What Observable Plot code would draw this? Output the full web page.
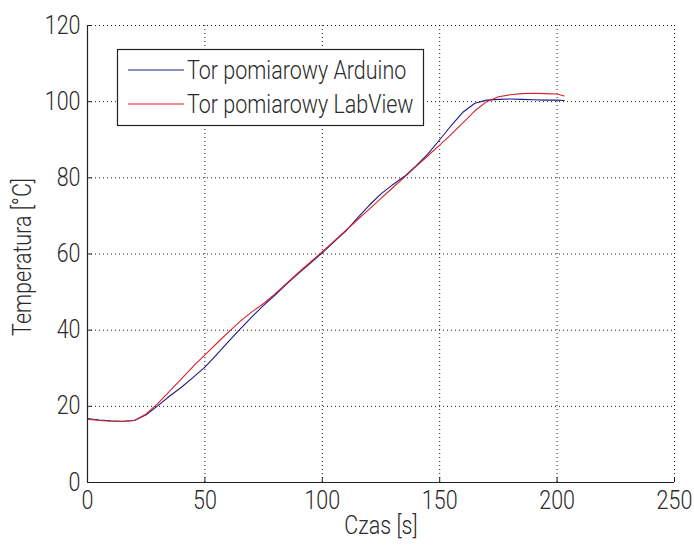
<!DOCTYPE html>
<html>
<head>
<meta charset="utf-8">
<script src="https://cdn.jsdelivr.net/npm/d3@7"></script>
<script src="https://cdn.jsdelivr.net/npm/@observablehq/plot@0.6"></script>
<style>
  html, body { margin: 0; padding: 0; background: #fff; }
  #chart { width: 694px; height: 547px; }
</style>
</head>
<body>
<div id="chart"></div>
<script>
const seriesNames = ["Tor pomiarowy Arduino", "Tor pomiarowy LabView"];
const seriesColors = ["#1c1c86", "#d8202c"];

const times = [0, 5, 10, 15, 20, 25, 30, 35, 40, 45, 50, 55, 60, 65, 70, 75, 80, 85, 90, 95,
  100, 105, 110, 115, 120, 125, 130, 135, 140, 145, 150, 155, 160, 165, 170, 175, 180, 185, 190, 195, 200, 203];

const arduino = [16.8, 16.4, 16.2, 16.1, 16.3, 17.8, 20.2, 22.7, 25.0, 27.6, 30.3, 33.6, 37.0, 40.3, 43.5, 46.5, 49.3, 52.2, 55.0, 57.6,
  60.3, 63.2, 66.0, 69.5, 72.8, 75.8, 78.2, 80.4, 83.2, 86.3, 90.0, 93.8, 97.3, 99.6, 100.4, 100.6, 100.7, 100.6, 100.5, 100.4, 100.4, 100.3];

const labview = [16.6, 16.3, 16.1, 16.0, 16.3, 18.0, 20.8, 24.0, 27.2, 30.5, 33.5, 36.5, 39.5, 42.3, 44.8, 47.0, 49.6, 52.4, 55.2, 57.9,
  60.6, 63.4, 66.2, 69.0, 71.8, 74.6, 77.4, 80.2, 83.0, 85.8, 88.6, 91.5, 94.5, 97.6, 100.0, 101.3, 101.8, 102.1, 102.2, 102.1, 102.0, 101.5];

const xTicks = [0, 50, 100, 150, 200, 250];
const yTicks = [0, 20, 40, 60, 80, 100, 120];
const xLabel = "Czas [s]";
const yLabel = "Temperatura [°C]";

const data = [];
times.forEach((t, i) => {
  data.push({t, v: arduino[i], s: seriesNames[0]});
});
times.forEach((t, i) => {
  data.push({t, v: labview[i], s: seriesNames[1]});
});

const font = "Roboto, 'Liberation Sans', Arial, sans-serif";
const textColor = "#2a2a2a";
const gridStyle = {stroke: "#000", strokeOpacity: 0.9, strokeDasharray: "1,3", strokeWidth: 1};

const plot = Plot.plot({
  width: 694,
  height: 547,
  marginLeft: 87,
  marginRight: 20,
  marginTop: 25,
  marginBottom: 65,
  style: {fontFamily: font, fontSize: "25px", fontWeight: 300, color: textColor, background: "#fff"},
  x: {domain: [0, 250]},
  y: {domain: [0, 120]},
  color: {domain: seriesNames, range: seriesColors},
  marks: [
    Plot.gridX(xTicks, gridStyle),
    Plot.gridY(yTicks, gridStyle),
    Plot.line(data, {x: "t", y: "v", stroke: "s", z: "s", strokeWidth: 1.1}),
    Plot.ruleY([0], {stroke: "#222", strokeWidth: 1.2}),
    Plot.ruleX([0], {stroke: "#222", strokeWidth: 1.2}),
    Plot.axisX(xTicks, {tickSize: -5, text: null, label: null, stroke: "#222"}),
    Plot.axisY(yTicks, {tickSize: -5, text: null, label: null, stroke: "#222"}),
    Plot.axisX(xTicks, {tickSize: 0, tickPadding: 9, label: null, fontSize: 25}),
    Plot.axisY(yTicks, {tickSize: 0, tickPadding: 7, label: null, fontSize: 25}),
    Plot.text([xLabel], {frameAnchor: "bottom", dy: 43, fontSize: 25, lineAnchor: "middle", textAnchor: "middle", fill: textColor}),
    Plot.text([yLabel], {frameAnchor: "left", dx: -65, dy: 3, rotate: -90, fontSize: 25, lineAnchor: "middle", textAnchor: "middle", fill: textColor})
  ]
});

// Legend (MATLAB-style box in upper-left of the axes)
const svg = d3.select(plot);
const g = svg.append("g").attr("font-family", font).attr("font-size", 25)
  .attr("font-weight", 300).attr("text-anchor", "start");
g.append("rect").attr("x", 117.5).attr("y", 49.5).attr("width", 306).attr("height", 76)
  .attr("fill", "#fff").attr("stroke", "#222").attr("stroke-width", 1.2);
seriesNames.forEach((name, i) => {
  const cy = 70 + i * 34;
  g.append("line").attr("x1", 128).attr("x2", 184).attr("y1", cy).attr("y2", cy)
    .attr("stroke", seriesColors[i]).attr("stroke-width", 1.1);
  g.append("text").attr("transform", `translate(187,${cy + 9})`).attr("fill", textColor).text(name);
});

// Narrow the glyphs horizontally (MATLAB's condensed Helvetica look)
svg.selectAll("text").each(function() {
  const tr = this.getAttribute("transform") || "";
  this.setAttribute("transform", `${tr} scale(0.86,1)`);
});

document.getElementById("chart").appendChild(plot);
</script>
</body>
</html>
